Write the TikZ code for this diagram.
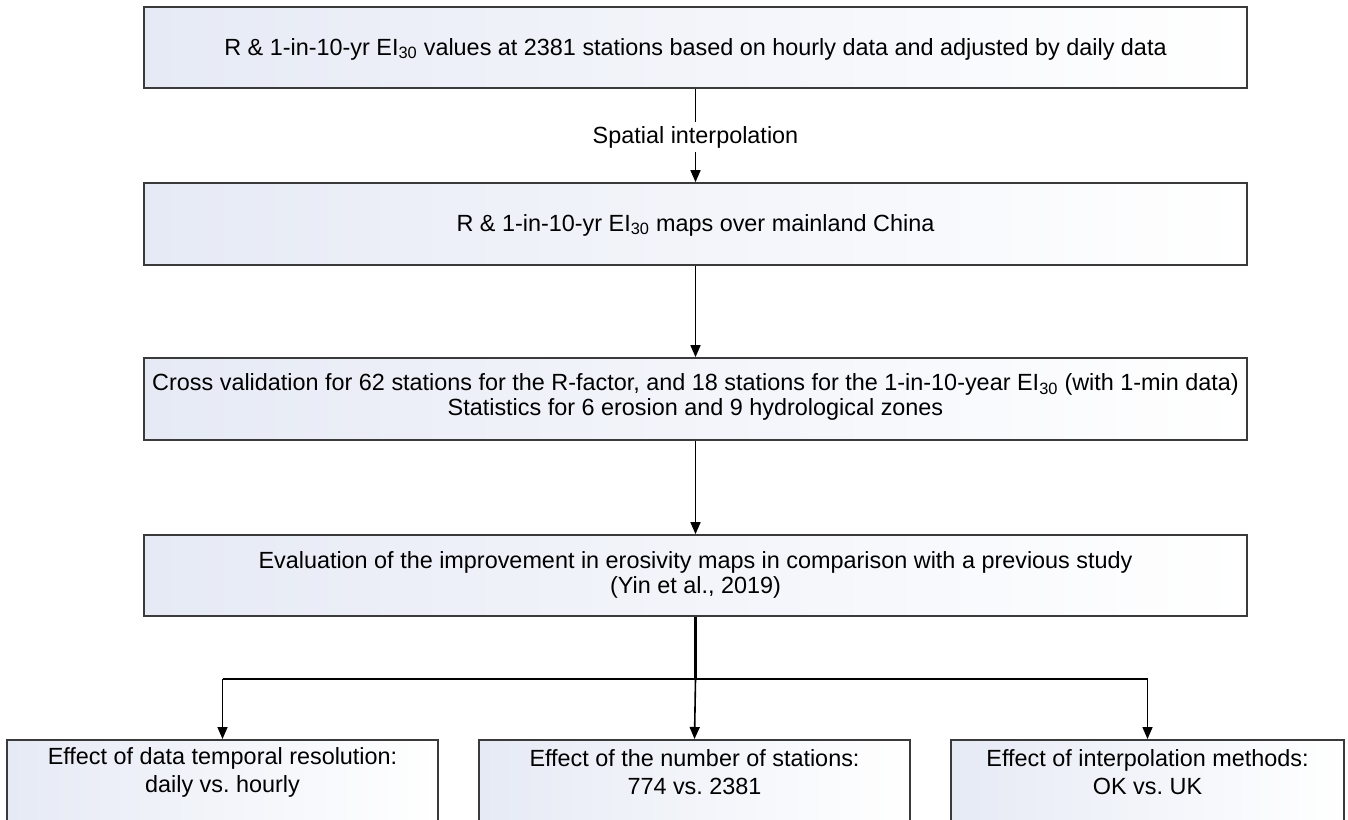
\documentclass[tikz,border=0pt]{standalone}
\usepackage{fontspec}
\setmainfont{Liberation Sans}
\usetikzlibrary{arrows.meta}
\frenchspacing
\definecolor{boxline}{HTML}{3A3A3A}
\definecolor{boxleft}{HTML}{E6EAF5}
\tikzset{
  box/.style={draw=boxline, line width=1.7pt, rectangle, left color=boxleft, right color=white, inner sep=0pt},
  boxtext/.style={align=center, font=\fontsize{23.4}{25}\selectfont, inner sep=0pt},
  efftext/.style={align=center, font=\fontsize{23.4}{28}\selectfont, inner sep=0pt},
  conn/.style={draw=black, line width=1.6pt, -{Triangle[length=12pt,width=10pt]}},
  trunk/.style={draw=black, line width=2.8pt},
  branch/.style={draw=black, line width=1.6pt},
  lbl/.style={fill=white, font=\fontsize{23.4}{25}\selectfont, inner sep=4pt}
}
\begin{document}
\begin{tikzpicture}[x=1pt,y=-1pt]
\useasboundingbox (0,0) rectangle (1348,819);
% main boxes
\node[box, minimum width=1103pt, minimum height=81pt] (b1) at (695.5,47.5) {};
\node[boxtext, yshift=-1.5pt] (t1) at (b1.center) {R \& 1-in-10-yr EI\textsubscript{30} values at 2381 stations based on hourly data and adjusted by daily data};
\node[box, minimum width=1103pt, minimum height=82pt] (b2) at (695.5,224) {};
\node[boxtext, yshift=-1pt] (t2) at (b2.center) {R \& 1-in-10-yr EI\textsubscript{30} maps over mainland China};
\node[box, minimum width=1103pt, minimum height=82pt] (b3) at (695.5,399) {};
\node[boxtext, yshift=2pt] (t3) at (b3.center) {Cross validation for 62 stations for the R-factor, and 18 stations for the 1-in-10-year EI\textsubscript{30} (with 1-min data)\\Statistics for 6 erosion and 9 hydrological zones};
\node[box, minimum width=1103pt, minimum height=81pt] (b4) at (695.5,575.5) {};
\node[boxtext, yshift=0.5pt] (t4) at (b4.center) {Evaluation of the improvement in erosivity maps in comparison with a previous study\\(Yin et al., 2019)};
% bottom boxes
\node[box, minimum width=431pt, minimum height=100pt, anchor=north] (e1) at (222.5,739) {};
\node[box, minimum width=431pt, minimum height=100pt, anchor=north] (e2) at (694.5,739) {};
\node[box, minimum width=393pt, minimum height=100pt, anchor=north] (e3) at (1147.5,739) {};
\node[efftext] (t5) at ([yshift=-33pt]e1.north) {Effect of data temporal resolution:\\daily vs. hourly};
\node[efftext] (t6) at ([yshift=-33pt]e2.north) {Effect of the number of stations:\\774 vs. 2381};
\node[efftext] (t7) at ([yshift=-33pt]e3.north) {Effect of interpolation methods:\\OK vs. UK};
% connectors
\draw[conn] (b1.south) -- node[lbl, pos=0.52] (sp) {Spatial interpolation} (b2.north);
\draw[conn] (b2.south) -- (b3.north);
\draw[conn] (b3.south) -- (b4.north);
\coordinate (j) at (b4.south |- 0,679);
\coordinate (jl) at (e1.north |- 0,679);
\coordinate (jr) at (e3.north |- 0,679);
\draw[trunk] (b4.south) -- (j);
\draw[branch] (jl) -- (jr);
\draw[conn] (jl) -- (e1.north);
\draw[conn] (j) -- (e2.north);
\draw[conn] (jr) -- (e3.north);
\end{tikzpicture}
\end{document}
